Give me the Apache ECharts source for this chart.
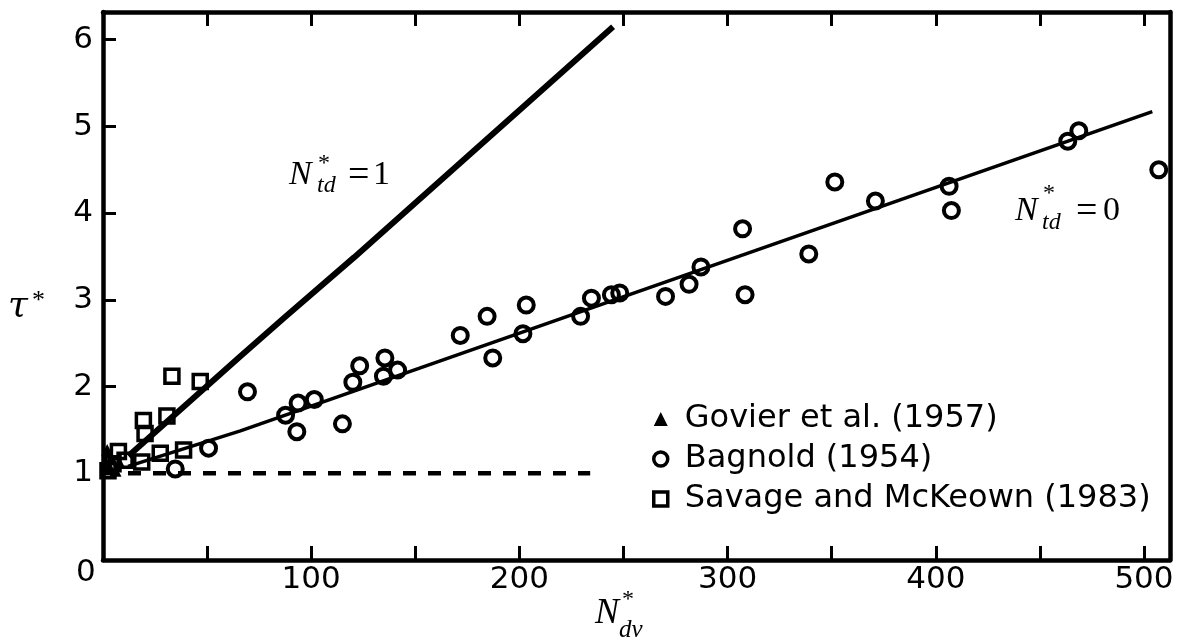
<!DOCTYPE html>
<html>
<head>
<meta charset="utf-8">
<script src="https://cdn.jsdelivr.net/npm/echarts@6/dist/echarts.min.js"></script>
<style>
  html, body { margin: 0; padding: 0; background: #fff; }
  #chart { width: 1186px; height: 639px; }
</style>
</head>
<body>
<div id="chart"></div>
<script>
// Dimensionless shear stress against dimensionless velocity number
const govier = [[2, 1.27], [4, 1.18], [3, 1.08], [6, 1.03], [8, 1.12]];

const bagnold = [
  [34.7, 1.05], [50.7, 1.29], [69.4, 1.94], [87.7, 1.67], [93.7, 1.81],
  [93.1, 1.48], [101.5, 1.85], [115, 1.57], [120, 2.05], [123.3, 2.24],
  [135.4, 2.33], [134.7, 2.12], [141.5, 2.19], [171.6, 2.59], [184.5, 2.81],
  [187.2, 2.33], [203.3, 2.94], [201.7, 2.61], [229.4, 2.81], [234.6, 3.02],
  [244.2, 3.06], [248.2, 3.08], [270.2, 3.04], [281.5, 3.18], [287.2, 3.38],
  [307.2, 3.82], [308.4, 3.06], [339, 3.53], [351.5, 4.36], [371, 4.14],
  [406.4, 4.31], [407.5, 4.03], [463.4, 4.83], [468.7, 4.95], [507.1, 4.50]
];

const savage = [
  [33.1, 2.12], [46.7, 2.06], [19.4, 1.61], [30.7, 1.66], [20.2, 1.46],
  [27.5, 1.23], [38.7, 1.27], [18.6, 1.13], [7.4, 1.25], [4.8, 1.11],
  [10.6, 1.15], [2.4, 1.03]
];

// model curves
const curveTd1 = [[12.2, 1.2], [66, 2.35], [86.9, 2.79], [120.6, 3.49], [245, 6.15]];
const curveTd0 = [[12, 1.08], [66, 1.49], [258.7, 3.11], [504, 5.17]];
const baseline = [[0, 1], [234, 1]];

const xTickLabels = [100, 200, 300, 400, 500];
const yTickLabels = [1, 2, 3, 4, 5, 6];

const sans = 'DejaVu Sans';
const serif = 'Liberation Serif';

const chart = echarts.init(document.getElementById('chart'), null, { renderer: 'canvas' });

const axisLine = { show: true, onZero: false, lineStyle: { color: '#000', width: 4.5 } };

const hollow = (bw) => ({ color: 'rgba(0,0,0,0)', borderColor: '#000', borderWidth: bw, opacity: 1 });

// text placed by its left edge and vertical middle
function mathText(x, y, text, size, italic, family) {
  return {
    type: 'text', x: x, y: y, silent: true,
    style: {
      text: text, x: 0, y: 0,
      fontSize: size, fontFamily: family || serif, fontStyle: italic ? 'italic' : 'normal',
      fill: '#000', align: 'left', verticalAlign: 'middle'
    }
  };
}

chart.setOption({
  backgroundColor: '#fff',
  animation: false,
  grid: { left: 103, right: 16, top: 12, bottom: 79, containLabel: false },
  xAxis: [
    {
      type: 'value', position: 'bottom', min: 0, max: 512.5, interval: 50,
      axisLine: axisLine,
      axisTick: { show: true, inside: true, length: 14, lineStyle: { color: '#000', width: 3 } },
      axisLabel: {
        show: true, margin: 4, color: '#000', fontFamily: sans, fontSize: 31,
        showMaxLabel: false,
        formatter: v => xTickLabels.includes(v) ? String(v) : ''
      },
      splitLine: { show: false }
    },
    {
      type: 'value', position: 'top', min: 0, max: 512.5, interval: 50,
      axisLine: axisLine,
      axisTick: { show: true, inside: true, length: 14, lineStyle: { color: '#000', width: 3 } },
      axisLabel: { show: false },
      splitLine: { show: false }
    }
  ],
  yAxis: [
    {
      type: 'value', position: 'left', min: 0, max: 6.32, interval: 1,
      axisLine: axisLine,
      axisTick: { show: true, inside: true, length: 13, lineStyle: { color: '#000', width: 3 } },
      axisLabel: {
        show: true, margin: 10, color: '#000', fontFamily: sans, fontSize: 31,
        showMaxLabel: false,
        formatter: v => yTickLabels.includes(v) ? String(v) : ''
      },
      splitLine: { show: false }
    },
    {
      type: 'value', position: 'right', min: 0, max: 6.32, interval: 1,
      axisLine: axisLine,
      axisTick: { show: false },
      axisLabel: { show: false },
      splitLine: { show: false }
    }
  ],
  legend: {
    orient: 'vertical', left: 647, top: 398, itemGap: 8,
    itemWidth: 14, itemHeight: 14,
    textStyle: { fontFamily: sans, fontSize: 32, color: '#000', padding: [0, 0, 0, 12] },
    data: [
      { name: 'Govier et al. (1957)', icon: 'triangle', itemStyle: { color: '#000', borderWidth: 0, opacity: 1 } },
      { name: 'Bagnold (1954)', icon: 'circle', itemStyle: hollow(3.5) },
      { name: 'Savage and McKeown (1983)', icon: 'rect', itemStyle: hollow(3.5) }
    ]
  },
  series: [
    {
      name: 'N*td=1', type: 'line', data: curveTd1, showSymbol: false, symbol: 'none',
      lineStyle: { color: '#000', width: 6 }, z: 2, silent: true
    },
    {
      name: 'N*td=0', type: 'line', data: curveTd0, showSymbol: false, symbol: 'none',
      lineStyle: { color: '#000', width: 3.5 }, z: 2, silent: true
    },
    {
      name: 'tau=1', type: 'line', data: baseline, showSymbol: false, symbol: 'none',
      lineStyle: { color: '#000', width: 4.5, type: [13, 12] }, z: 2, silent: true
    },
    {
      name: 'Govier et al. (1957)', type: 'scatter', data: govier,
      symbol: 'triangle', symbolSize: 12, itemStyle: { color: '#000', opacity: 1 }, z: 3
    },
    {
      name: 'Bagnold (1954)', type: 'scatter', data: bagnold,
      symbol: 'circle', symbolSize: 15, itemStyle: hollow(4), z: 3
    },
    {
      name: 'Savage and McKeown (1983)', type: 'scatter', data: savage,
      symbol: 'rect', symbolSize: 14, itemStyle: hollow(3.5), z: 3
    }
  ],
  graphic: [
    // shared origin label
    {
      type: 'text', left: 76, top: 557, silent: true,
      style: { text: '0', fontSize: 31, fontFamily: sans, fill: '#000' }
    },
    // y-axis title τ*
    mathText(8, 307, 'τ', 36, true, 'DejaVu Serif'),
    mathText(32, 301, '*', 26, false),
    // x-axis title N*dv
    mathText(595, 614, 'N', 36, true),
    mathText(622, 600, '*', 24, false),
    mathText(619, 630, 'dv', 25, true),
    // curve label N*td = 1
    mathText(289, 175, 'N', 34, true),
    mathText(318, 164, '*', 24, false),
    mathText(317, 186, 'td', 24, true),
    mathText(348, 176, '=', 38, false),
    mathText(373, 175, '1', 34, false),
    // curve label N*td = 0
    mathText(1015, 211, 'N', 34, true),
    mathText(1043, 194, '*', 24, false),
    mathText(1042, 223, 'td', 24, true),
    mathText(1076, 212, '=', 38, false),
    mathText(1103, 211, '0', 34, false)
  ]
});
</script>
</body>
</html>
